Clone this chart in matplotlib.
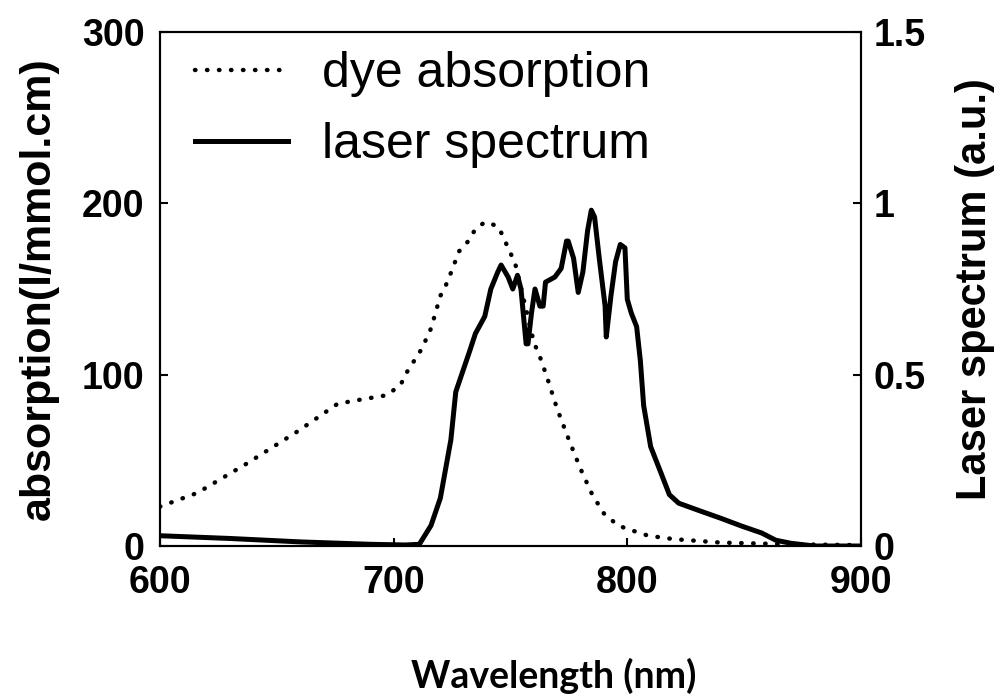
import matplotlib.pyplot as plt

# dye absorption (left axis, l/mmol.cm)
dye_wl = [600, 616, 637, 659, 676, 684, 697, 703, 705, 712, 716, 720, 723, 728, 732,
          735, 739, 742, 745, 748, 750, 752, 756, 760, 763, 766, 770, 775, 780, 785,
          790, 796, 800, 809, 820, 840, 870, 900]
dye_abs = [23, 31, 48, 67, 83, 85, 88, 94, 100, 115, 127, 146, 154, 172, 178,
           185, 189, 188, 186, 177, 171, 165, 142, 119, 109, 97, 80, 62, 45, 30,
           19, 12, 10, 6, 4, 2, 1, 0.5]

# laser spectrum (right axis, a.u.)
laser_wl = [600, 630, 660, 690, 705, 711, 716, 720, 724.5, 726.6, 729.6, 732.6, 735, 739,
            741.6, 744.6, 746, 749, 751, 753, 754.5, 756.7, 757.5, 759, 760.5, 762.6,
            764, 765, 769, 771.7, 774, 774.7, 777, 779, 781, 783, 784.6, 786, 788,
            790.5, 791, 793, 795, 797, 799, 800, 801.7, 804, 805.6, 807, 810, 814.6,
            818, 822, 830.5, 840, 849, 857.5, 863.5, 870, 880, 900]
laser_spec = [0.03, 0.022, 0.012, 0.005, 0.003, 0.005, 0.06, 0.14, 0.31, 0.45, 0.51, 0.57, 0.62, 0.67,
              0.75, 0.80, 0.82, 0.785, 0.75, 0.79, 0.75, 0.59, 0.59, 0.68, 0.75, 0.70,
              0.70, 0.77, 0.785, 0.81, 0.89, 0.89, 0.84, 0.74, 0.80, 0.92, 0.98, 0.96, 0.84,
              0.70, 0.61, 0.73, 0.83, 0.88, 0.87, 0.72, 0.68, 0.64, 0.54, 0.41, 0.29, 0.21,
              0.15, 0.125, 0.104, 0.081, 0.058, 0.038, 0.017, 0.008, 0.0, 0.0]

x_ticks = [600, 700, 800, 900]
left_ticks = [0, 100, 200, 300]
right_ticks = [0, 0.5, 1, 1.5]
right_tick_labels = ["0", "0.5", "1", "1.5"]

fig = plt.figure(figsize=(10.01, 6.96), dpi=100)
ax = fig.add_axes([0.1598, 0.2155, 0.7003, 0.7385])
ax2 = ax.twinx()

l1, = ax.plot(dye_wl, dye_abs, color="black", linestyle=(0, (0.1, 2.6)), lw=3.2,
              dash_capstyle="round", label="dye absorption")
l2, = ax2.plot(laser_wl, laser_spec, color="black", lw=3.6, label="laser spectrum")

ax.set_xlim(600, 900)
ax.set_ylim(0, 300)
ax2.set_ylim(0, 1.5)
ax.set_xticks(x_ticks)
ax.set_yticks(left_ticks)
ax2.set_yticks(right_ticks)
ax2.set_yticklabels(right_tick_labels)

for a in (ax, ax2):
    a.tick_params(direction="in", length=6, width=1.5, labelsize=27)
    for lab in a.get_xticklabels() + a.get_yticklabels():
        lab.set_fontweight("bold")
        lab.set_family("Liberation Sans")
    for s in a.spines.values():
        s.set_linewidth(1.5)
ax.tick_params(axis="x", pad=14)
ax.tick_params(axis="y", pad=11)
ax2.tick_params(axis="y", pad=9)

ax.set_ylabel("absorption(l/mmol.cm)", fontsize=31, fontweight="bold",
              family="Liberation Sans", labelpad=17)
ax2.set_ylabel("Laser spectrum (a.u.)", fontsize=30, fontweight="bold",
               family="Liberation Sans", labelpad=21)
fig.text(0.553, 0.003, "Wavelength (nm)", ha="center", va="bottom", fontsize=27,
         fontweight="bold", family="Lato")

ax.legend(handles=[l1, l2], loc="upper left", bbox_to_anchor=(0.05, 0.963),
          frameon=False, handlelength=1.85, handletextpad=0.68, borderpad=0,
          borderaxespad=0, labelspacing=0.5,
          prop={"family": "Liberation Sans", "size": 36})

fig.savefig("out.png", dpi=100)
